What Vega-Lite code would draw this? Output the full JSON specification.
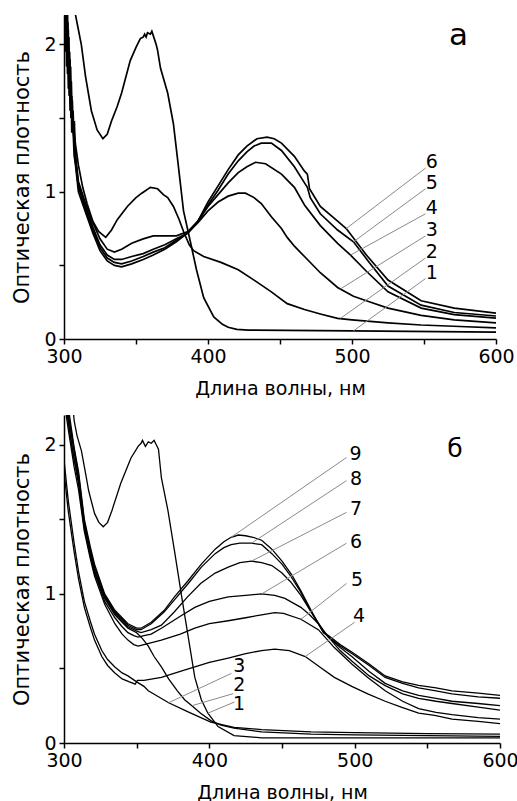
{
"$schema": "https://vega.github.io/schema/vega-lite/v6.json",
"background": "white",
"padding": {"left": 11, "top": 15, "right": 2, "bottom": 0},
"spacing": 17,
"config": {
  "view": {"stroke": null},
  "font": "DejaVu Sans",
  "axis": {"grid": false, "domainColor": "black", "domainWidth": 1.5, "tickColor": "black", "tickWidth": 1.5, "tickSize": 5, "labelFont": "DejaVu Sans", "labelFontSize": 19, "labelColor": "black", "labelPadding": 3, "labelFlush": false, "labelOverlap": false, "titleFont": "DejaVu Sans", "titleFontWeight": "normal", "titleColor": "black"}
},
"datasets": {
"a": [
{"c":1,"w":306,"a":2.45},{"c":1,"w":308,"a":2.2},{"c":1,"w":310,"a":2.1},{"c":1,"w":312,"a":2.0},{"c":1,"w":315,"a":1.78},{"c":1,"w":319,"a":1.55},{"c":1,"w":323,"a":1.42},{"c":1,"w":327,"a":1.36},{"c":1,"w":330,"a":1.39},{"c":1,"w":333,"a":1.48},{"c":1,"w":337,"a":1.58},{"c":1,"w":340,"a":1.67},{"c":1,"w":346,"a":1.89},{"c":1,"w":350,"a":1.98},{"c":1,"w":353,"a":2.04},{"c":1,"w":355,"a":2.05},{"c":1,"w":356,"a":2.07},{"c":1,"w":357,"a":2.05},{"c":1,"w":358,"a":2.08},{"c":1,"w":360,"a":2.07},{"c":1,"w":361,"a":2.09},{"c":1,"w":362,"a":2.06},{"c":1,"w":364,"a":2.0},{"c":1,"w":365,"a":1.96},{"c":1,"w":367,"a":1.84},{"c":1,"w":372,"a":1.67},{"c":1,"w":376,"a":1.46},{"c":1,"w":379,"a":1.21},{"c":1,"w":383,"a":0.87},{"c":1,"w":388,"a":0.65},{"c":1,"w":392,"a":0.47},{"c":1,"w":397,"a":0.28},{"c":1,"w":404,"a":0.15},{"c":1,"w":410,"a":0.1},{"c":1,"w":414,"a":0.08},{"c":1,"w":420,"a":0.065},{"c":1,"w":428,"a":0.06},{"c":1,"w":500,"a":0.055},{"c":1,"w":600,"a":0.047},
{"c":2,"w":300,"a":2.4},{"c":2,"w":302,"a":2.05},{"c":2,"w":304,"a":1.75},{"c":2,"w":306,"a":1.5},{"c":2,"w":308,"a":1.32},{"c":2,"w":310,"a":1.18},{"c":2,"w":313,"a":1.03},{"c":2,"w":316,"a":0.92},{"c":2,"w":320,"a":0.8},{"c":2,"w":324,"a":0.73},{"c":2,"w":329,"a":0.69},{"c":2,"w":333,"a":0.74},{"c":2,"w":337,"a":0.81},{"c":2,"w":344,"a":0.9},{"c":2,"w":350,"a":0.96},{"c":2,"w":354,"a":0.99},{"c":2,"w":360,"a":1.03},{"c":2,"w":365,"a":1.02},{"c":2,"w":369,"a":0.98},{"c":2,"w":372,"a":0.96},{"c":2,"w":376,"a":0.9},{"c":2,"w":380,"a":0.81},{"c":2,"w":383,"a":0.73},{"c":2,"w":387,"a":0.64},{"c":2,"w":390,"a":0.6},{"c":2,"w":397,"a":0.56},{"c":2,"w":409,"a":0.52},{"c":2,"w":421,"a":0.47},{"c":2,"w":432,"a":0.4},{"c":2,"w":444,"a":0.32},{"c":2,"w":455,"a":0.24},{"c":2,"w":467,"a":0.2},{"c":2,"w":478,"a":0.17},{"c":2,"w":490,"a":0.14},{"c":2,"w":500,"a":0.13},{"c":2,"w":525,"a":0.11},{"c":2,"w":548,"a":0.095},{"c":2,"w":575,"a":0.085},{"c":2,"w":600,"a":0.075},
{"c":3,"w":300,"a":2.5},{"c":3,"w":300.6,"a":2.05},{"c":3,"w":301.2,"a":2.4},{"c":3,"w":301.8,"a":1.85},{"c":3,"w":302.4,"a":2.2},{"c":3,"w":303,"a":1.7},{"c":3,"w":303.6,"a":1.95},{"c":3,"w":304.2,"a":1.55},{"c":3,"w":304.8,"a":1.75},{"c":3,"w":305.4,"a":1.4},{"c":3,"w":306,"a":1.5},{"c":3,"w":307,"a":1.25},{"c":3,"w":308,"a":1.18},{"c":3,"w":310,"a":1.0},{"c":3,"w":315,"a":0.86},{"c":3,"w":320,"a":0.72},{"c":3,"w":325,"a":0.6},{"c":3,"w":330,"a":0.53},{"c":3,"w":335,"a":0.5},{"c":3,"w":340,"a":0.49},{"c":3,"w":347,"a":0.51},{"c":3,"w":355,"a":0.54},{"c":3,"w":362,"a":0.57},{"c":3,"w":370,"a":0.61},{"c":3,"w":378,"a":0.66},{"c":3,"w":386,"a":0.72},{"c":3,"w":393,"a":0.79},{"c":3,"w":400,"a":0.87},{"c":3,"w":407,"a":0.93},{"c":3,"w":414,"a":0.97},{"c":3,"w":421,"a":0.99},{"c":3,"w":426,"a":0.99},{"c":3,"w":432,"a":0.96},{"c":3,"w":437,"a":0.92},{"c":3,"w":444,"a":0.83},{"c":3,"w":451,"a":0.75},{"c":3,"w":455,"a":0.69},{"c":3,"w":460,"a":0.63},{"c":3,"w":467,"a":0.56},{"c":3,"w":478,"a":0.45},{"c":3,"w":490,"a":0.35},{"c":3,"w":501,"a":0.29},{"c":3,"w":513,"a":0.25},{"c":3,"w":525,"a":0.21},{"c":3,"w":548,"a":0.16},{"c":3,"w":571,"a":0.13},{"c":3,"w":600,"a":0.11},
{"c":4,"w":300,"a":2.2},{"c":4,"w":300.6,"a":2.5},{"c":4,"w":301.2,"a":1.95},{"c":4,"w":301.8,"a":2.35},{"c":4,"w":302.4,"a":1.8},{"c":4,"w":303,"a":2.1},{"c":4,"w":303.6,"a":1.65},{"c":4,"w":304.2,"a":1.9},{"c":4,"w":304.8,"a":1.5},{"c":4,"w":305.4,"a":1.65},{"c":4,"w":306,"a":1.45},{"c":4,"w":307,"a":1.35},{"c":4,"w":308,"a":1.2},{"c":4,"w":310,"a":1.03},{"c":4,"w":315,"a":0.88},{"c":4,"w":320,"a":0.74},{"c":4,"w":325,"a":0.62},{"c":4,"w":330,"a":0.55},{"c":4,"w":335,"a":0.52},{"c":4,"w":340,"a":0.51},{"c":4,"w":347,"a":0.53},{"c":4,"w":355,"a":0.56},{"c":4,"w":362,"a":0.59},{"c":4,"w":370,"a":0.62},{"c":4,"w":378,"a":0.67},{"c":4,"w":386,"a":0.72},{"c":4,"w":393,"a":0.8},{"c":4,"w":400,"a":0.9},{"c":4,"w":407,"a":0.98},{"c":4,"w":414,"a":1.06},{"c":4,"w":421,"a":1.13},{"c":4,"w":427,"a":1.17},{"c":4,"w":433,"a":1.2},{"c":4,"w":440,"a":1.19},{"c":4,"w":451,"a":1.12},{"c":4,"w":460,"a":1.03},{"c":4,"w":467,"a":0.91},{"c":4,"w":478,"a":0.77},{"c":4,"w":490,"a":0.65},{"c":4,"w":499,"a":0.57},{"c":4,"w":510,"a":0.46},{"c":4,"w":525,"a":0.32},{"c":4,"w":548,"a":0.21},{"c":4,"w":571,"a":0.165},{"c":4,"w":600,"a":0.142},
{"c":5,"w":300,"a":2.45},{"c":5,"w":300.5,"a":2.1},{"c":5,"w":301,"a":2.5},{"c":5,"w":301.6,"a":2.0},{"c":5,"w":302.2,"a":2.3},{"c":5,"w":302.8,"a":1.8},{"c":5,"w":303.4,"a":2.05},{"c":5,"w":304,"a":1.65},{"c":5,"w":304.6,"a":1.85},{"c":5,"w":305.2,"a":1.5},{"c":5,"w":305.8,"a":1.62},{"c":5,"w":306.5,"a":1.4},{"c":5,"w":307.2,"a":1.48},{"c":5,"w":308,"a":1.22},{"c":5,"w":310,"a":1.05},{"c":5,"w":315,"a":0.9},{"c":5,"w":320,"a":0.76},{"c":5,"w":325,"a":0.64},{"c":5,"w":330,"a":0.57},{"c":5,"w":335,"a":0.54},{"c":5,"w":340,"a":0.54},{"c":5,"w":347,"a":0.56},{"c":5,"w":355,"a":0.58},{"c":5,"w":362,"a":0.61},{"c":5,"w":370,"a":0.64},{"c":5,"w":378,"a":0.68},{"c":5,"w":386,"a":0.72},{"c":5,"w":393,"a":0.8},{"c":5,"w":400,"a":0.91},{"c":5,"w":407,"a":1.01},{"c":5,"w":414,"a":1.12},{"c":5,"w":421,"a":1.21},{"c":5,"w":427,"a":1.27},{"c":5,"w":432,"a":1.31},{"c":5,"w":437,"a":1.33},{"c":5,"w":444,"a":1.33},{"c":5,"w":451,"a":1.28},{"c":5,"w":460,"a":1.17},{"c":5,"w":467,"a":1.06},{"c":5,"w":469,"a":1.03},{"c":5,"w":471,"a":0.96},{"c":5,"w":478,"a":0.85},{"c":5,"w":490,"a":0.74},{"c":5,"w":501,"a":0.66},{"c":5,"w":512,"a":0.52},{"c":5,"w":525,"a":0.36},{"c":5,"w":548,"a":0.23},{"c":5,"w":571,"a":0.18},{"c":5,"w":600,"a":0.156},
{"c":6,"w":300,"a":2.3},{"c":6,"w":300.4,"a":2.5},{"c":6,"w":300.9,"a":2.0},{"c":6,"w":301.5,"a":2.4},{"c":6,"w":302.1,"a":1.9},{"c":6,"w":302.7,"a":2.15},{"c":6,"w":303.3,"a":1.75},{"c":6,"w":303.9,"a":1.95},{"c":6,"w":304.5,"a":1.6},{"c":6,"w":305.1,"a":1.75},{"c":6,"w":305.7,"a":1.5},{"c":6,"w":306.3,"a":1.55},{"c":6,"w":307,"a":1.35},{"c":6,"w":308,"a":1.25},{"c":6,"w":310,"a":1.07},{"c":6,"w":315,"a":0.92},{"c":6,"w":320,"a":0.79},{"c":6,"w":325,"a":0.68},{"c":6,"w":330,"a":0.61},{"c":6,"w":335,"a":0.59},{"c":6,"w":340,"a":0.61},{"c":6,"w":347,"a":0.65},{"c":6,"w":355,"a":0.68},{"c":6,"w":362,"a":0.7},{"c":6,"w":370,"a":0.7},{"c":6,"w":378,"a":0.7},{"c":6,"w":386,"a":0.73},{"c":6,"w":393,"a":0.8},{"c":6,"w":400,"a":0.93},{"c":6,"w":407,"a":1.04},{"c":6,"w":414,"a":1.15},{"c":6,"w":421,"a":1.25},{"c":6,"w":427,"a":1.31},{"c":6,"w":434,"a":1.36},{"c":6,"w":441,"a":1.37},{"c":6,"w":446,"a":1.36},{"c":6,"w":451,"a":1.33},{"c":6,"w":460,"a":1.24},{"c":6,"w":467,"a":1.14},{"c":6,"w":469,"a":1.12},{"c":6,"w":470.5,"a":1.02},{"c":6,"w":478,"a":0.9},{"c":6,"w":490,"a":0.8},{"c":6,"w":496,"a":0.75},{"c":6,"w":510,"a":0.57},{"c":6,"w":525,"a":0.4},{"c":6,"w":548,"a":0.26},{"c":6,"w":571,"a":0.21},{"c":6,"w":600,"a":0.176}
],
"aLead": [
{"w":551,"a":1.16,"w2":496,"a2":0.75},{"w":551,"a":1.02,"w2":501,"a2":0.66},{"w":551,"a":0.85,"w2":499,"a2":0.57},{"w":551,"a":0.7,"w2":492,"a2":0.34},{"w":551,"a":0.55,"w2":492,"a2":0.14},{"w":551,"a":0.41,"w2":501,"a2":0.055}
],
"aLab": [
{"w":555.5,"a":1.2,"t":"6"},{"w":555.5,"a":1.06,"t":"5"},{"w":555.5,"a":0.89,"t":"4"},{"w":555.5,"a":0.74,"t":"3"},{"w":555.5,"a":0.59,"t":"2"},{"w":555.5,"a":0.45,"t":"1"}
],
"aTag": [{"w":574,"a":2.06,"t":"а"}],
"b": [
{"c":1,"w":305,"a":2.4},{"c":1,"w":307,"a":2.16},{"c":1,"w":309,"a":2.06},{"c":1,"w":312,"a":1.96},{"c":1,"w":315,"a":1.8},{"c":1,"w":317,"a":1.69},{"c":1,"w":321,"a":1.54},{"c":1,"w":324,"a":1.48},{"c":1,"w":327,"a":1.45},{"c":1,"w":330,"a":1.48},{"c":1,"w":333,"a":1.56},{"c":1,"w":339,"a":1.74},{"c":1,"w":346,"a":1.91},{"c":1,"w":351,"a":1.99},{"c":1,"w":353,"a":2.01},{"c":1,"w":354,"a":2.03},{"c":1,"w":356,"a":1.99},{"c":1,"w":358,"a":2.02},{"c":1,"w":360,"a":2.01},{"c":1,"w":362,"a":2.03},{"c":1,"w":364,"a":1.99},{"c":1,"w":365,"a":1.97},{"c":1,"w":367,"a":1.78},{"c":1,"w":371.5,"a":1.56},{"c":1,"w":376,"a":1.29},{"c":1,"w":381,"a":0.98},{"c":1,"w":385.5,"a":0.71},{"c":1,"w":390,"a":0.44},{"c":1,"w":394.5,"a":0.29},{"c":1,"w":399,"a":0.2},{"c":1,"w":406,"a":0.11},{"c":1,"w":417,"a":0.05},{"c":1,"w":436,"a":0.035},{"c":1,"w":500,"a":0.035},{"c":1,"w":600,"a":0.035},
{"c":2,"w":300,"a":2.35},{"c":2,"w":303,"a":2.15},{"c":2,"w":306,"a":1.95},{"c":2,"w":310,"a":1.76},{"c":2,"w":314,"a":1.46},{"c":2,"w":317,"a":1.3},{"c":2,"w":321,"a":1.15},{"c":2,"w":328,"a":0.97},{"c":2,"w":335,"a":0.86},{"c":2,"w":344,"a":0.77},{"c":2,"w":350,"a":0.74},{"c":2,"w":354,"a":0.7},{"c":2,"w":358,"a":0.65},{"c":2,"w":362,"a":0.58},{"c":2,"w":367,"a":0.51},{"c":2,"w":372,"a":0.43},{"c":2,"w":378,"a":0.35},{"c":2,"w":383,"a":0.29},{"c":2,"w":388,"a":0.25},{"c":2,"w":394,"a":0.2},{"c":2,"w":401,"a":0.15},{"c":2,"w":408,"a":0.12},{"c":2,"w":417,"a":0.1},{"c":2,"w":436,"a":0.075},{"c":2,"w":470,"a":0.06},{"c":2,"w":500,"a":0.055},{"c":2,"w":550,"a":0.05},{"c":2,"w":600,"a":0.045},
{"c":3,"w":300,"a":1.9},{"c":3,"w":303,"a":1.62},{"c":3,"w":307,"a":1.34},{"c":3,"w":310,"a":1.15},{"c":3,"w":314,"a":0.95},{"c":3,"w":318,"a":0.82},{"c":3,"w":321,"a":0.73},{"c":3,"w":326,"a":0.62},{"c":3,"w":330,"a":0.56},{"c":3,"w":335,"a":0.51},{"c":3,"w":340,"a":0.47},{"c":3,"w":344,"a":0.45},{"c":3,"w":350,"a":0.41},{"c":3,"w":355,"a":0.38},{"c":3,"w":358,"a":0.35},{"c":3,"w":365,"a":0.31},{"c":3,"w":372,"a":0.27},{"c":3,"w":385,"a":0.21},{"c":3,"w":401,"a":0.14},{"c":3,"w":417,"a":0.105},{"c":3,"w":436,"a":0.09},{"c":3,"w":470,"a":0.075},{"c":3,"w":500,"a":0.07},{"c":3,"w":550,"a":0.063},{"c":3,"w":600,"a":0.06},
{"c":4,"w":300,"a":1.82},{"c":4,"w":303,"a":1.55},{"c":4,"w":307,"a":1.28},{"c":4,"w":310,"a":1.1},{"c":4,"w":314,"a":0.91},{"c":4,"w":318,"a":0.78},{"c":4,"w":321,"a":0.69},{"c":4,"w":326,"a":0.58},{"c":4,"w":330,"a":0.52},{"c":4,"w":335,"a":0.47},{"c":4,"w":340,"a":0.43},{"c":4,"w":345,"a":0.41},{"c":4,"w":349,"a":0.395},{"c":4,"w":350.5,"a":0.42},{"c":4,"w":355,"a":0.42},{"c":4,"w":367,"a":0.44},{"c":4,"w":380,"a":0.48},{"c":4,"w":390,"a":0.51},{"c":4,"w":400,"a":0.54},{"c":4,"w":413,"a":0.57},{"c":4,"w":425,"a":0.6},{"c":4,"w":436,"a":0.62},{"c":4,"w":445,"a":0.63},{"c":4,"w":455,"a":0.62},{"c":4,"w":466,"a":0.58},{"c":4,"w":476,"a":0.51},{"c":4,"w":486,"a":0.44},{"c":4,"w":498,"a":0.38},{"c":4,"w":509,"a":0.33},{"c":4,"w":521,"a":0.28},{"c":4,"w":532,"a":0.24},{"c":4,"w":544,"a":0.2},{"c":4,"w":555,"a":0.185},{"c":4,"w":567,"a":0.16},{"c":4,"w":585,"a":0.145},{"c":4,"w":600,"a":0.13},
{"c":5,"w":300,"a":2.3},{"c":5,"w":303,"a":2.1},{"c":5,"w":307,"a":1.85},{"c":5,"w":310,"a":1.7},{"c":5,"w":314,"a":1.42},{"c":5,"w":318,"a":1.24},{"c":5,"w":321,"a":1.12},{"c":5,"w":328,"a":0.93},{"c":5,"w":335,"a":0.8},{"c":5,"w":340,"a":0.73},{"c":5,"w":344,"a":0.69},{"c":5,"w":348,"a":0.66},{"c":5,"w":351,"a":0.65},{"c":5,"w":355,"a":0.66},{"c":5,"w":367,"a":0.69},{"c":5,"w":380,"a":0.73},{"c":5,"w":390,"a":0.77},{"c":5,"w":400,"a":0.8},{"c":5,"w":413,"a":0.82},{"c":5,"w":425,"a":0.84},{"c":5,"w":436,"a":0.86},{"c":5,"w":445,"a":0.875},{"c":5,"w":451,"a":0.87},{"c":5,"w":463,"a":0.83},{"c":5,"w":475,"a":0.76},{"c":5,"w":486,"a":0.64},{"c":5,"w":498,"a":0.53},{"c":5,"w":509,"a":0.44},{"c":5,"w":521,"a":0.35},{"c":5,"w":533,"a":0.28},{"c":5,"w":544,"a":0.23},{"c":5,"w":556,"a":0.205},{"c":5,"w":567,"a":0.19},{"c":5,"w":585,"a":0.17},{"c":5,"w":600,"a":0.16},
{"c":6,"w":300,"a":2.35},{"c":6,"w":303,"a":2.15},{"c":6,"w":307,"a":1.9},{"c":6,"w":310,"a":1.74},{"c":6,"w":314,"a":1.44},{"c":6,"w":318,"a":1.26},{"c":6,"w":321,"a":1.14},{"c":6,"w":328,"a":0.95},{"c":6,"w":335,"a":0.84},{"c":6,"w":340,"a":0.78},{"c":6,"w":344,"a":0.74},{"c":6,"w":348,"a":0.72},{"c":6,"w":351,"a":0.71},{"c":6,"w":355,"a":0.72},{"c":6,"w":360,"a":0.73},{"c":6,"w":367,"a":0.77},{"c":6,"w":380,"a":0.85},{"c":6,"w":390,"a":0.91},{"c":6,"w":400,"a":0.95},{"c":6,"w":413,"a":0.98},{"c":6,"w":425,"a":0.99},{"c":6,"w":436,"a":1.0},{"c":6,"w":445,"a":0.99},{"c":6,"w":452,"a":0.97},{"c":6,"w":463,"a":0.91},{"c":6,"w":469,"a":0.86},{"c":6,"w":475,"a":0.8},{"c":6,"w":482,"a":0.71},{"c":6,"w":490,"a":0.62},{"c":6,"w":498,"a":0.55},{"c":6,"w":510,"a":0.45},{"c":6,"w":521,"a":0.385},{"c":6,"w":533,"a":0.33},{"c":6,"w":544,"a":0.3},{"c":6,"w":556,"a":0.28},{"c":6,"w":567,"a":0.265},{"c":6,"w":585,"a":0.24},{"c":6,"w":600,"a":0.22},
{"c":7,"w":300,"a":2.4},{"c":7,"w":303,"a":2.2},{"c":7,"w":307,"a":1.95},{"c":7,"w":310,"a":1.78},{"c":7,"w":314,"a":1.46},{"c":7,"w":318,"a":1.28},{"c":7,"w":321,"a":1.16},{"c":7,"w":328,"a":0.98},{"c":7,"w":335,"a":0.87},{"c":7,"w":344,"a":0.78},{"c":7,"w":350,"a":0.75},{"c":7,"w":353,"a":0.74},{"c":7,"w":360,"a":0.76},{"c":7,"w":367,"a":0.79},{"c":7,"w":376,"a":0.88},{"c":7,"w":385,"a":0.98},{"c":7,"w":394,"a":1.07},{"c":7,"w":404,"a":1.14},{"c":7,"w":413,"a":1.18},{"c":7,"w":421,"a":1.21},{"c":7,"w":429,"a":1.22},{"c":7,"w":436,"a":1.21},{"c":7,"w":443,"a":1.19},{"c":7,"w":450,"a":1.14},{"c":7,"w":456,"a":1.08},{"c":7,"w":463,"a":0.99},{"c":7,"w":470,"a":0.88},{"c":7,"w":478,"a":0.76},{"c":7,"w":482,"a":0.71},{"c":7,"w":490,"a":0.64},{"c":7,"w":498,"a":0.58},{"c":7,"w":510,"a":0.48},{"c":7,"w":521,"a":0.4},{"c":7,"w":533,"a":0.35},{"c":7,"w":544,"a":0.32},{"c":7,"w":556,"a":0.3},{"c":7,"w":567,"a":0.28},{"c":7,"w":585,"a":0.265},{"c":7,"w":600,"a":0.25},
{"c":8,"w":300,"a":2.4},{"c":8,"w":303,"a":2.2},{"c":8,"w":307,"a":1.97},{"c":8,"w":310,"a":1.8},{"c":8,"w":314,"a":1.48},{"c":8,"w":318,"a":1.3},{"c":8,"w":321,"a":1.18},{"c":8,"w":328,"a":0.99},{"c":8,"w":335,"a":0.88},{"c":8,"w":344,"a":0.79},{"c":8,"w":350,"a":0.76},{"c":8,"w":353,"a":0.76},{"c":8,"w":360,"a":0.8},{"c":8,"w":369,"a":0.88},{"c":8,"w":376,"a":0.96},{"c":8,"w":385.5,"a":1.07},{"c":8,"w":394.5,"a":1.18},{"c":8,"w":404,"a":1.27},{"c":8,"w":410,"a":1.31},{"c":8,"w":415,"a":1.33},{"c":8,"w":421,"a":1.34},{"c":8,"w":429,"a":1.34},{"c":8,"w":436,"a":1.33},{"c":8,"w":443,"a":1.27},{"c":8,"w":450,"a":1.2},{"c":8,"w":456,"a":1.12},{"c":8,"w":463,"a":1.01},{"c":8,"w":470,"a":0.88},{"c":8,"w":478,"a":0.75},{"c":8,"w":482,"a":0.71},{"c":8,"w":490,"a":0.65},{"c":8,"w":498,"a":0.6},{"c":8,"w":510,"a":0.52},{"c":8,"w":521,"a":0.44},{"c":8,"w":533,"a":0.4},{"c":8,"w":544,"a":0.37},{"c":8,"w":556,"a":0.35},{"c":8,"w":567,"a":0.33},{"c":8,"w":585,"a":0.31},{"c":8,"w":600,"a":0.3},
{"c":9,"w":300,"a":2.45},{"c":9,"w":303,"a":2.25},{"c":9,"w":307,"a":1.98},{"c":9,"w":310,"a":1.82},{"c":9,"w":314,"a":1.5},{"c":9,"w":318,"a":1.32},{"c":9,"w":321,"a":1.2},{"c":9,"w":328,"a":1.0},{"c":9,"w":335,"a":0.89},{"c":9,"w":344,"a":0.8},{"c":9,"w":350,"a":0.77},{"c":9,"w":353,"a":0.77},{"c":9,"w":360,"a":0.81},{"c":9,"w":369,"a":0.89},{"c":9,"w":376,"a":0.98},{"c":9,"w":385.5,"a":1.09},{"c":9,"w":394.5,"a":1.2},{"c":9,"w":404,"a":1.3},{"c":9,"w":410,"a":1.35},{"c":9,"w":415,"a":1.38},{"c":9,"w":420,"a":1.395},{"c":9,"w":425,"a":1.39},{"c":9,"w":430,"a":1.38},{"c":9,"w":436,"a":1.36},{"c":9,"w":443,"a":1.3},{"c":9,"w":450,"a":1.22},{"c":9,"w":456.6,"a":1.13},{"c":9,"w":463,"a":1.02},{"c":9,"w":470,"a":0.89},{"c":9,"w":478.5,"a":0.74},{"c":9,"w":482,"a":0.72},{"c":9,"w":490,"a":0.66},{"c":9,"w":498,"a":0.61},{"c":9,"w":510,"a":0.53},{"c":9,"w":521,"a":0.45},{"c":9,"w":533,"a":0.41},{"c":9,"w":544,"a":0.387},{"c":9,"w":556,"a":0.37},{"c":9,"w":567,"a":0.35},{"c":9,"w":585,"a":0.335},{"c":9,"w":600,"a":0.32}
],
"bLead": [
{"w":494.4,"a":1.915,"w2":415,"a2":1.38},{"w":494.4,"a":1.76,"w2":429,"a2":1.34},{"w":494.4,"a":1.547,"w2":429,"a2":1.22},{"w":494.4,"a":1.34,"w2":436,"a2":1.0},{"w":494.4,"a":1.07,"w2":463,"a2":0.83},{"w":500,"a":0.81,"w2":466,"a2":0.58},{"w":415.2,"a":0.467,"w2":372,"a2":0.27},{"w":416.4,"a":0.331,"w2":388,"a2":0.25},{"w":417.3,"a":0.275,"w2":399,"a2":0.2}
],
"bLab": [
{"w":500.6,"a":1.94,"t":"9"},{"w":501,"a":1.77,"t":"8"},{"w":501,"a":1.57,"t":"7"},{"w":501,"a":1.35,"t":"6"},{"w":501.6,"a":1.09,"t":"5"},{"w":503,"a":0.85,"t":"4"},{"w":420.7,"a":0.517,"t":"3"},{"w":420.7,"a":0.39,"t":"2"},{"w":420.4,"a":0.263,"t":"1"}
],
"bTag": [{"w":569,"a":1.97,"t":"б"}]
},
"vconcat": [
{
  "width": 432, "height": 324,
  "layer": [
    {"data": {"name": "a"}, "mark": {"type": "line", "color": "black", "strokeWidth": 1.7, "clip": true},
     "encoding": {
       "x": {"field": "w", "type": "quantitative", "scale": {"domain": [300, 600], "nice": false, "zero": false},
             "axis": {"title": "Длина волны, нм", "values": [300, 350, 400, 450, 500, 550, 600], "labelExpr": "datum.value % 100 === 0 ? '' + datum.value : ''", "titleFontSize": 19, "titlePadding": 13}},
       "y": {"field": "a", "type": "quantitative", "scale": {"domain": [0, 2.2], "nice": false},
             "axis": {"title": "Оптическая плотность", "values": [0, 0.5, 1, 1.5, 2], "labelExpr": "datum.value % 1 === 0 ? '' + datum.value : ''", "titleFontSize": 21, "titlePadding": 11}},
       "detail": {"field": "c", "type": "nominal"}
     }},
    {"data": {"name": "aLead"}, "mark": {"type": "rule", "color": "#8a8a8a", "strokeWidth": 1},
     "encoding": {"x": {"field": "w", "type": "quantitative"}, "y": {"field": "a", "type": "quantitative"}, "x2": {"field": "w2"}, "y2": {"field": "a2"}}},
    {"data": {"name": "aLab"}, "mark": {"type": "text", "fontSize": 19, "font": "DejaVu Sans", "color": "black", "align": "center", "baseline": "middle"},
     "encoding": {"x": {"field": "w", "type": "quantitative"}, "y": {"field": "a", "type": "quantitative"}, "text": {"field": "t"}}},
    {"data": {"name": "aTag"}, "mark": {"type": "text", "fontSize": 31, "font": "DejaVu Sans", "color": "black", "align": "center", "baseline": "middle"},
     "encoding": {"x": {"field": "w", "type": "quantitative"}, "y": {"field": "a", "type": "quantitative"}, "text": {"field": "t"}}}
  ]
},
{
  "width": 436, "height": 328,
  "layer": [
    {"data": {"name": "b"}, "mark": {"type": "line", "color": "black", "strokeWidth": 1.3, "clip": true},
     "encoding": {
       "x": {"field": "w", "type": "quantitative", "scale": {"domain": [300, 600], "nice": false, "zero": false},
             "axis": {"title": "Длина волны, нм", "values": [300, 350, 400, 450, 500, 550, 600], "labelExpr": "datum.value % 100 === 0 ? '' + datum.value : ''", "titleFontSize": 19, "titlePadding": 13}},
       "y": {"field": "a", "type": "quantitative", "scale": {"domain": [0, 2.2], "nice": false},
             "axis": {"title": "Оптическая плотность", "values": [0, 0.5, 1, 1.5, 2], "labelExpr": "datum.value % 1 === 0 ? '' + datum.value : ''", "titleFontSize": 21, "titlePadding": 11}},
       "detail": {"field": "c", "type": "nominal"}
     }},
    {"data": {"name": "bLead"}, "mark": {"type": "rule", "color": "#8a8a8a", "strokeWidth": 1},
     "encoding": {"x": {"field": "w", "type": "quantitative"}, "y": {"field": "a", "type": "quantitative"}, "x2": {"field": "w2"}, "y2": {"field": "a2"}}},
    {"data": {"name": "bLab"}, "mark": {"type": "text", "fontSize": 19, "font": "DejaVu Sans", "color": "black", "align": "center", "baseline": "middle"},
     "encoding": {"x": {"field": "w", "type": "quantitative"}, "y": {"field": "a", "type": "quantitative"}, "text": {"field": "t"}}},
    {"data": {"name": "bTag"}, "mark": {"type": "text", "fontSize": 25, "font": "DejaVu Sans", "color": "black", "align": "center", "baseline": "middle"},
     "encoding": {"x": {"field": "w", "type": "quantitative"}, "y": {"field": "a", "type": "quantitative"}, "text": {"field": "t"}}}
  ]
}
]
}
